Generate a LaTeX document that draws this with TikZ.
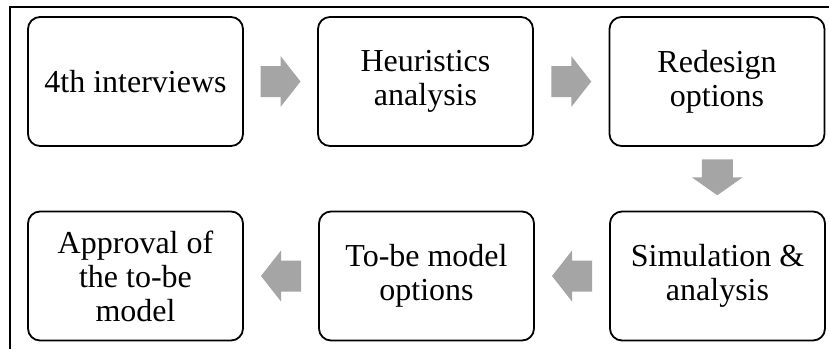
\documentclass[tikz,border=0pt]{standalone}
\usepackage{fontspec}
\setmainfont{Liberation Serif}
\usetikzlibrary{calc}
\definecolor{arrowgray}{HTML}{A5A5A5}
\tikzset{
  stage/.style={draw=black, line width=1.8pt, rounded corners=12pt,
    minimum width=215pt, minimum height=129pt, inner sep=2pt,
    align=center, font=\fontsize{32}{34}\selectfont},
  blockarrow/.style={fill=arrowgray, draw=none},
  frame/.style={draw=black, line width=1.6pt}
}
% block arrow drawn around a centre point #1, pointing along angle #2
\newcommand{\blockarrow}[3]{%
  \fill[blockarrow, shift={(#1)}, rotate=#2]
    (-#3,-15.5) -- (0,-15.5) -- (0,-25.5) -- (#3,0) -- (0,25.5) -- (0,15.5) -- (-#3,15.5) -- cycle;}
\begin{document}
\begin{tikzpicture}[x=1pt, y=-1pt]
  \useasboundingbox (0,0) rectangle (829,349);
  % open frame: only top and left edges fall inside the page
  \draw[frame] (829,7) -- (10,7) -- (10,349);

  % first row, left to right
  \node[stage] (interviews) at (135.5,81.5) {4th interviews};
  \node[stage] (heuristics) at (425.5,81.5) {Heuristics\\analysis};
  \node[stage] (redesign)   at (717,81.5)   {Redesign\\options};
  % second row, right to left
  \node[stage] (simulation) at (717.5,276)  {Simulation \&\\analysis};
  \node[stage] (tobe)       at (426.5,276)  {To-be model\\options};
  \node[stage] (approval)   at (135.5,276)  {Approval of\\the to-be\\model};

  % arrows sit midway between neighbouring stages
  \coordinate (a1) at ($(interviews.east)!0.5!(heuristics.west)$);
  \coordinate (a2) at ($(heuristics.east)!0.5!(redesign.west)$);
  \coordinate (a3) at ($(redesign.south)!0.5!(simulation.north)$);
  \coordinate (a4) at ($(simulation.west)!0.5!(tobe.east)$);
  \coordinate (a5) at ($(tobe.west)!0.5!(approval.east)$);

  \blockarrow{a1}{0}{20}
  \blockarrow{a2}{0}{20}
  \blockarrow{$(a3)+(0,-1.5)$}{-90}{18}
  \blockarrow{a4}{180}{20}
  \blockarrow{a5}{180}{20}
\end{tikzpicture}
\end{document}
